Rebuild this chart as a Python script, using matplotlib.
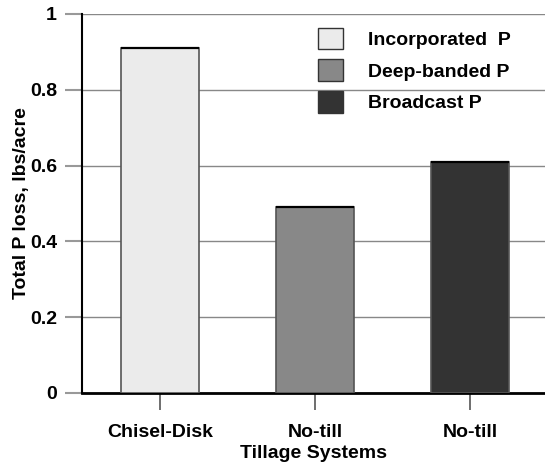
import matplotlib.pyplot as plt
from matplotlib.patches import Patch

# data
systems = ['Chisel-Disk', 'No-till', 'No-till']
methods = ['Incorporated  P', 'Deep-banded P', 'Broadcast P']
p_loss = [0.91, 0.49, 0.61]
colors = ['#ebebeb', '#888888', '#333333']
yticks = [0, 0.2, 0.4, 0.6, 0.8, 1]
ytick_labels = ['0', '0.2', '0.4', '0.6', '0.8', '1']

plt.rcParams['font.family'] = ['Liberation Sans', 'DejaVu Sans']
plt.rcParams['font.weight'] = 'bold'
plt.rcParams['axes.labelweight'] = 'bold'

fig = plt.figure(figsize=(5.45, 4.66), dpi=100)
ax = fig.add_axes([0.1505, 0.1567, 0.8495, 0.8133])

x = list(range(len(systems)))
ax.bar(x, p_loss, width=0.5, color=colors, edgecolor='#555555', linewidth=1.2, zorder=3)
ax.hlines(p_loss, [i - 0.25 for i in x], [i + 0.25 for i in x], colors='black', linewidth=1.6, zorder=4)

ax.set_xlim(-0.503, 2.484)
ax.set_ylim(0, 1)
ax.set_yticks(yticks)
ax.set_yticklabels(ytick_labels)
ax.set_xticks(x)
ax.set_xticklabels(systems)
ax.yaxis.grid(True, color='#888888', linewidth=1)
ax.set_axisbelow(True)

for s in ['top', 'right']:
    ax.spines[s].set_visible(False)
ax.spines['left'].set_linewidth(1.5)
ax.spines['bottom'].set_linewidth(2)
ax.tick_params(axis='y', length=12, width=1.5, color='#999999', labelsize=14, pad=6)
ax.tick_params(axis='x', length=12, width=1.2, color='#555555', labelsize=14, pad=10)

ax.set_ylabel('Total P loss, lbs/acre', fontsize=14, labelpad=0)
ax.set_xlabel('Tillage Systems', fontsize=14, labelpad=3)

handles = [Patch(facecolor=c, edgecolor='#333333', linewidth=1) for c in colors]
ax.legend(handles, methods, loc='upper left', bbox_to_anchor=(0.48, 1.0),
          frameon=False, fontsize=14, handlelength=1.3, handleheight=1.3,
          handletextpad=1.3, labelspacing=0.55, borderaxespad=0.3)

fig.savefig('out.png', dpi=100)
